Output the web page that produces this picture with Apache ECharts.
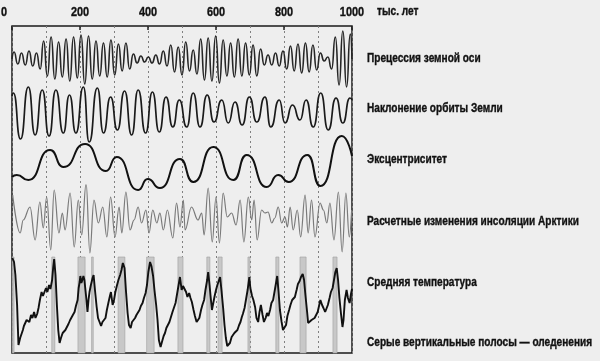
<!DOCTYPE html>
<html><head><meta charset="utf-8">
<script src="https://cdn.jsdelivr.net/npm/echarts@6/dist/echarts.min.js"></script>
<style>html,body{margin:0;padding:0;background:#eeeeee}#c{width:600px;height:361px}</style>
</head><body><div id="c"></div>
<script>
// x: тыс. лет (0–1000); values: relative amplitude
const xTicks = [0, 200, 400, 600, 800, 1000];
const labels = [
  'Прецессия земной оси',
  'Наклонение орбиты Земли',
  'Эксцентриситет',
  'Расчетные изменения инсоляции Арктики',
  'Средняя температура',
  'Серые вертикальные полосы — оледенения'
];
const precession = [[0,0],[6,7],[17,-5],[28,6],[39,-6],[50,8],[61,-7],[72,6],[83,-10],[93,18],[104,-17],[115,22],[126,-20],[137,17],[148,-18],[159,20],[170,-22],[181,22],[192,-19],[203,24],[214,-25],[225,23],[236,-20],[247,18],[258,-17],[269,16],[280,-18],[291,19],[302,-16],[313,15],[324,-12],[335,16],[346,-10],[357,5],[368,-4],[379,3],[390,-3],[401,2],[412,-4],[423,4],[434,-5],[445,8],[456,-7],[467,14],[478,-13],[489,12],[500,-16],[511,17],[522,-12],[533,9],[544,-15],[555,20],[566,-21],[577,21],[588,-22],[599,23],[610,-24],[621,19],[632,-17],[643,16],[654,-18],[665,20],[676,-17],[687,16],[698,-16],[709,14],[720,-17],[731,10],[742,-6],[753,4],[764,-6],[775,6],[786,-7],[797,8],[808,-10],[819,13],[830,-12],[841,15],[852,-14],[863,16],[874,-13],[885,14],[896,-11],[907,6],[918,-2],[929,2],[940,-10],[951,22],[962,-26],[973,28],[984,-28],[995,25],[1000,0]];
const obliquity = [[0,16],[4,19],[25,-27],[48,25],[68,-23],[89,22],[109,-24],[129,22],[151,-21],[169,17],[188,-21],[210,25],[227,-30],[251,24],[269,-21],[290,15],[310,-18],[331,21],[352,-23],[371,22],[393,-21],[413,20],[433,-20],[453,15],[473,-15],[492,12],[514,-15],[533,19],[553,-15],[574,17],[594,-10],[617,12],[636,-11],[656,10],[677,-13],[698,15],[720,-10],[744,15],[761,-15],[786,12],[803,-11],[825,7],[847,-8],[865,12],[886,-15],[908,19],[930,-18],[953,14],[973,-11],[994,14],[1000,12]];
const eccentricity = [[0,13],[14,15],[48,10],[112,40],[151,23],[215,46],[276,19],[308,33],[371,0],[399,11],[435,2],[494,31],[533,8],[592,43],[651,10],[690,35],[749,3],[783,15],[814,8],[869,35],[907,4],[970,54],[1000,34]];
const insolation = [[2,25],[24,-13],[33,0],[53,13],[68,-20],[82,18],[92,-8],[102,23],[114,-30],[124,30],[138,-13],[148,7],[156,-10],[171,27],[183,-27],[195,20],[205,-15],[218,37],[229,-33],[241,20],[254,-3],[267,13],[279,-17],[290,23],[303,-17],[315,13],[323,-13],[335,28],[347,-10],[359,0],[371,13],[381,-3],[394,10],[403,-13],[414,10],[426,-3],[435,7],[445,-10],[457,10],[473,-18],[484,17],[494,-7],[504,20],[509,-10],[528,13],[547,0],[558,7],[565,-15],[577,32],[589,-22],[600,23],[610,-23],[621,27],[633,3],[646,7],[659,-5],[671,20],[682,-22],[695,23],[705,0],[712,20],[721,-20],[734,10],[744,7],[753,8],[764,-3],[773,2],[783,13],[793,-3],[803,3],[810,-7],[818,13],[827,-10],[839,10],[849,-17],[862,25],[871,-13],[881,20],[891,-17],[906,17],[916,10],[926,-3],[935,17],[947,-20],[960,28],[971,-32],[982,27],[992,-17],[999,10]];
const temperature = [[1,95],[6,91],[10,78],[15,48],[19,8],[24,15],[29,20],[32,23],[35,27],[38,25],[43,33],[47,35],[51,31],[56,38],[60,35],[65,41],[69,35],[74,39],[78,45],[82,53],[87,61],[91,57],[96,59],[100,65],[104,61],[109,68],[113,64],[118,73],[121,85],[124,94],[128,78],[132,48],[136,23],[140,10],[144,15],[149,20],[153,18],[157,23],[162,21],[166,29],[171,33],[175,31],[179,38],[184,41],[188,47],[193,53],[196,65],[199,71],[201,77],[204,70],[207,73],[210,77],[213,73],[216,63],[219,53],[222,41],[225,53],[228,61],[232,68],[237,75],[240,78],[244,63],[249,46],[253,35],[257,33],[262,27],[266,31],[271,29],[275,35],[279,43],[284,51],[288,57],[291,61],[296,48],[300,53],[304,61],[309,68],[313,73],[318,78],[322,83],[326,90],[331,85],[335,63],[340,40],[344,28],[349,25],[353,31],[357,29],[362,35],[366,38],[371,37],[375,43],[379,47],[384,50],[388,55],[393,60],[397,68],[401,81],[406,91],[410,87],[415,77],[419,63],[424,48],[428,33],[432,13],[437,6],[441,11],[446,17],[450,20],[454,25],[459,27],[463,31],[468,33],[472,41],[476,45],[481,50],[485,58],[490,68],[494,76],[499,63],[503,67],[507,66],[512,61],[516,56],[521,60],[525,55],[529,51],[534,43],[538,37],[543,31],[547,30],[551,35],[556,43],[560,48],[565,53],[569,63],[574,73],[577,81],[581,68],[584,57],[588,43],[592,50],[596,57],[600,63],[604,68],[609,73],[612,76],[616,63],[621,45],[625,28],[629,15],[633,7],[637,5],[641,10],[646,16],[650,15],[654,20],[659,19],[663,23],[668,28],[672,31],[676,36],[679,39],[684,45],[688,53],[693,63],[698,76],[701,65],[706,57],[710,53],[715,46],[719,35],[724,31],[728,41],[732,48],[737,38],[741,31],[746,35],[750,40],[754,37],[759,43],[763,50],[768,53],[772,61],[776,69],[780,77],[784,61],[788,43],[793,31],[797,23],[801,21],[806,28],[810,37],[815,43],[819,48],[824,53],[828,51],[832,56],[837,63],[841,69],[846,72],[850,76],[855,79],[859,73],[863,58],[868,41],[871,30],[876,28],[881,33],[885,31],[890,35],[894,37],[899,41],[903,47],[907,53],[912,48],[916,45],[921,41],[925,40],[929,48],[934,55],[938,61],[943,65],[947,73],[951,81],[955,85],[959,73],[963,55],[968,38],[972,26],[975,33],[979,53],[984,63],[988,55],[993,50],[997,59],[1000,64]];
const glaciations = [[1,6],[117,126],[194,215],[234,239],[312,332],[396,418],[488,503],[573,582],[606,618],[694,700],[776,785],[847,865],[944,956]];

const FONT = '"Liberation Sans",Arial,sans-serif';
const chart = echarts.init(document.getElementById('c'), null, {renderer:'canvas'});
const L = 12, W = 340;
const bands = [
  {top:27, height:64, min:-32, max:32},
  {top:80, height:64, min:-32, max:32},
  {top:130, height:60, min:0, max:60},
  {top:185, height:70, min:-35, max:35},
  {top:253, height:100, min:0, max:100}
];
const grids = [{left:L, top:26, width:W, height:327, show:true, borderColor:'#1a1a1a', borderWidth:1.5, backgroundColor:'transparent'}];
bands.forEach(b => grids.push({left:L, width:W, top:b.top, height:b.height}));
const xAxes = [
  {gridIndex:0, type:'value', position:'top', min:0, max:1000, interval:200,
   axisLine:{show:false, onZero:false}, axisTick:{show:true, inside:true, length:4, lineStyle:{color:'#222', width:1.5}},
   splitLine:{show:false},
   axisLabel:{show:false}},
  {gridIndex:0, type:'value', position:'bottom', min:0, max:1000, interval:100,
   axisLine:{show:false, onZero:false}, axisTick:{show:false}, axisLabel:{show:false},
   splitLine:{show:true, lineStyle:{color:'#808080', type:[2,3], width:1}}}
];
const yAxes = [{gridIndex:0, type:'value', show:false, min:0, max:1}];
bands.forEach((b,i) => {
  xAxes.push({gridIndex:i+1, type:'value', min:0, max:1000, show:false});
  yAxes.push({gridIndex:i+1, type:'value', min:b.min, max:b.max, show:false});
});
function line(idx, data, color, width, smooth, extra) {
  return Object.assign({type:'line', xAxisIndex:idx+2, yAxisIndex:idx+1, data, showSymbol:false, symbol:'none',
    smooth, smoothMonotone: smooth ? 'x' : undefined, silent:true, lineStyle:{color, width}, z:3}, extra||{});
}
const series = [
  line(0, precession, '#262626', 1.6, 0.6),
  line(1, obliquity, '#1a1a1a', 1.7, 0.6),
  line(2, eccentricity, '#111', 2, 0.6),
  line(3, insolation, '#7a7a7a', 1.2, 0.4),
  line(4, temperature, '#111', 1.9, false, {
    markArea:{silent:true, itemStyle:{color:'#c8c8c8', borderColor:'#a0a0a0', borderWidth:0.6},
      data: glaciations.map(g => [{xAxis:g[0], yAxis:0}, {xAxis:g[1], yAxis:96}])}
  })
];
const SX = 0.84;
chart.setOption({backgroundColor:'#eeeeee', animation:false, grid:grids, xAxis:xAxes, yAxis:yAxes, series});
const txt = (text, size) => ({text, font:'bold '+size+'px '+FONT, fill:'#111', stroke:'#111', lineWidth:0.35, verticalAlign:'middle'});
const graphic = [];
xTicks.forEach(t => {
  const px = chart.convertToPixel({xAxisIndex:0}, t);
  const s = txt(String(t), 13); s.align = t === 0 ? 'left' : 'center';
  graphic.push({type:'text', x: t === 0 ? 1 : px, y:12, scaleX:SX, style:s});
});
graphic.push({type:'text', x:377, y:12, scaleX:SX, style:txt('тыс. лет', 12)});
const ly = [59, 109, 160, 222, 283, 343];
labels.forEach((t,i) => graphic.push({type:'text', x:367, y:ly[i], scaleX:SX, style:txt(t, 12)}));
chart.setOption({graphic});
</script></body></html>
